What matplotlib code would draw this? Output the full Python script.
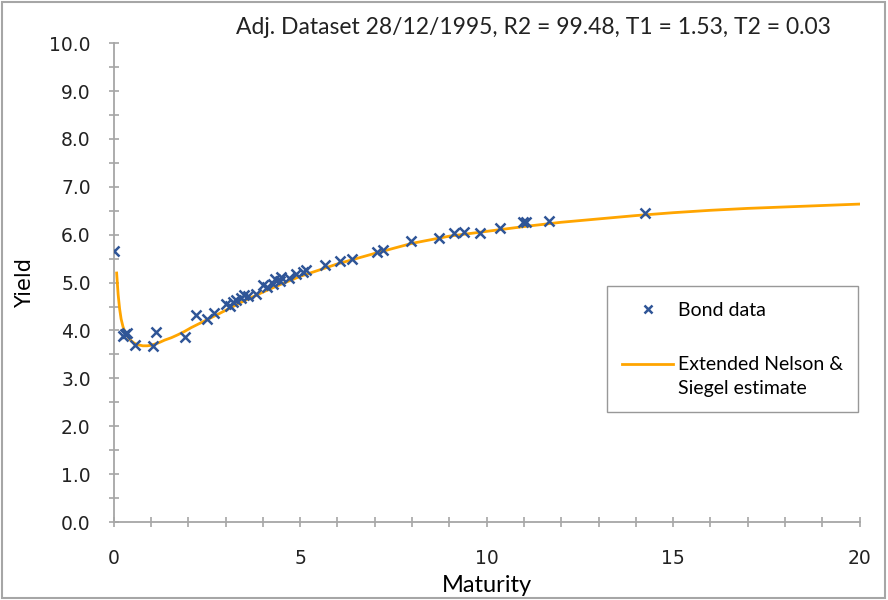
import numpy as np
import matplotlib
matplotlib.use('Agg')
from matplotlib import pyplot as plt
from matplotlib.patches import Rectangle
from matplotlib.legend_handler import HandlerLine2D
from matplotlib.ticker import MultipleLocator, FormatStrFormatter

plt.rcParams['font.family'] = ['DejaVu Sans']
narrow = ['Lato', 'DejaVu Sans']

# bond data (maturity, yield)
bond_maturity = [0.0, 0.25, 0.3, 0.36, 0.56, 1.05, 1.14, 1.9, 2.22, 2.5, 2.7,
                 3.02, 3.11, 3.2, 3.28, 3.41, 3.5, 3.6, 3.82, 4.0, 4.1, 4.27,
                 4.32, 4.45, 4.5, 4.7, 4.9, 5.08, 5.17, 5.66, 6.06, 6.4,
                 7.06, 7.22, 7.98, 8.71, 9.12, 9.39, 9.81, 10.35, 10.97,
                 11.06, 11.67, 14.24]
bond_yield = [5.66, 3.88, 3.93, 3.95, 3.70, 3.67, 3.96, 3.86, 4.32, 4.25, 4.36,
              4.55, 4.51, 4.60, 4.63, 4.67, 4.74, 4.72, 4.77, 4.95, 4.90, 4.98,
              5.07, 5.03, 5.12, 5.10, 5.19, 5.23, 5.26, 5.37, 5.45, 5.50,
              5.64, 5.68, 5.87, 5.94, 6.03, 6.06, 6.04, 6.15, 6.27,
              6.27, 6.29, 6.46]

# fitted curve
fit_maturity = [0.08, 0.12, 0.16, 0.2, 0.25, 0.3, 0.38, 0.46, 0.56, 0.66, 0.78,
                0.9, 1.0, 1.2, 1.37, 1.55, 1.72, 1.9, 2.08, 2.44, 2.8, 3.0,
                3.5, 4.0, 4.5, 5.0, 5.5, 6.0, 7.0, 8.0, 9.0, 10.0, 11.0, 12.0,
                13.0, 14.0, 15.0, 16.0, 17.0, 18.0, 19.0, 20.0]
fit_yield = [5.20, 4.75, 4.45, 4.24, 4.08, 3.97, 3.87, 3.79, 3.73, 3.70, 3.68,
             3.68, 3.69, 3.74, 3.80, 3.85, 3.91, 3.98, 4.06, 4.20, 4.34, 4.42,
             4.62, 4.80, 4.97, 5.13, 5.26, 5.39, 5.61, 5.82, 5.97, 6.07, 6.17,
             6.26, 6.33, 6.40, 6.46, 6.51, 6.55, 6.58, 6.61, 6.64]

title = 'Adj. Dataset 28/12/1995, R2 = 99.48, T1 = 1.53, T2 = 0.03'


# line handle sits level with the first text line, like Excel does
class HandlerUp(HandlerLine2D):
    def create_artists(self, legend, orig_handle, xdescent, ydescent,
                       width, height, fontsize, trans):
        artists = super().create_artists(legend, orig_handle, xdescent, ydescent,
                                          width, height, fontsize, trans)
        for a in artists:
            a.set_ydata(np.asarray(a.get_ydata()) + 9)
        return artists


fig = plt.figure(figsize=(8.88, 6), dpi=100)
ax = fig.add_axes([0.128, 0.13, 0.84, 0.798])

ax.plot(bond_maturity, bond_yield, 'x', color='#2F5597', markersize=7,
        markeredgewidth=1.8, label='Bond data', zorder=3)
fit_line, = ax.plot(fit_maturity, fit_yield, '-', color='#FFA500', linewidth=2,
                    label='Extended Nelson &\nSiegel estimate', zorder=2)

ax.set_xlim(0, 20)
ax.set_ylim(0, 10)
ax.xaxis.set_major_locator(MultipleLocator(5))
ax.xaxis.set_minor_locator(MultipleLocator(1))
ax.yaxis.set_major_locator(MultipleLocator(1))
ax.yaxis.set_minor_locator(MultipleLocator(0.5))
ax.yaxis.set_major_formatter(FormatStrFormatter('%.1f'))

for s in ['top', 'right']:
    ax.spines[s].set_visible(False)
for s in ['left', 'bottom']:
    ax.spines[s].set_color('#A6A6A6')
    ax.spines[s].set_linewidth(1.3)

ax.tick_params(which='both', direction='inout', color='#A6A6A6', width=1.2,
               labelsize=13.5, labelcolor='#222222')
ax.tick_params(which='major', length=7)
ax.tick_params(which='minor', length=7)
ax.tick_params(axis='x', pad=16)
ax.tick_params(axis='y', pad=13)

ax.set_xlabel('Maturity', fontsize=17, family=narrow, labelpad=5)
ax.set_ylabel('Yield', fontsize=15, labelpad=10)

fig.text(0.601, 0.955, title, fontsize=16.5, family=narrow, ha='center',
         va='center', color='#222222')

leg = ax.legend(loc='upper left', bbox_to_anchor=(0.661, 0.493),
                prop={'family': narrow, 'size': 14}, frameon=True,
                fancybox=False, edgecolor='#7F7F7F', markerscale=0.75,
                labelspacing=1.95, handlelength=2.6, handletextpad=0.25,
                borderpad=0.8, borderaxespad=0,
                handler_map={fit_line: HandlerUp()})
leg.get_frame().set_linewidth(1.0)
leg.get_texts()[1].set_linespacing(1.45)

fig.add_artist(Rectangle((0.002, 0.003), 0.995, 0.993, transform=fig.transFigure,
                         fill=False, edgecolor='#A6A6A6', linewidth=1.5))

plt.savefig('out.png')
